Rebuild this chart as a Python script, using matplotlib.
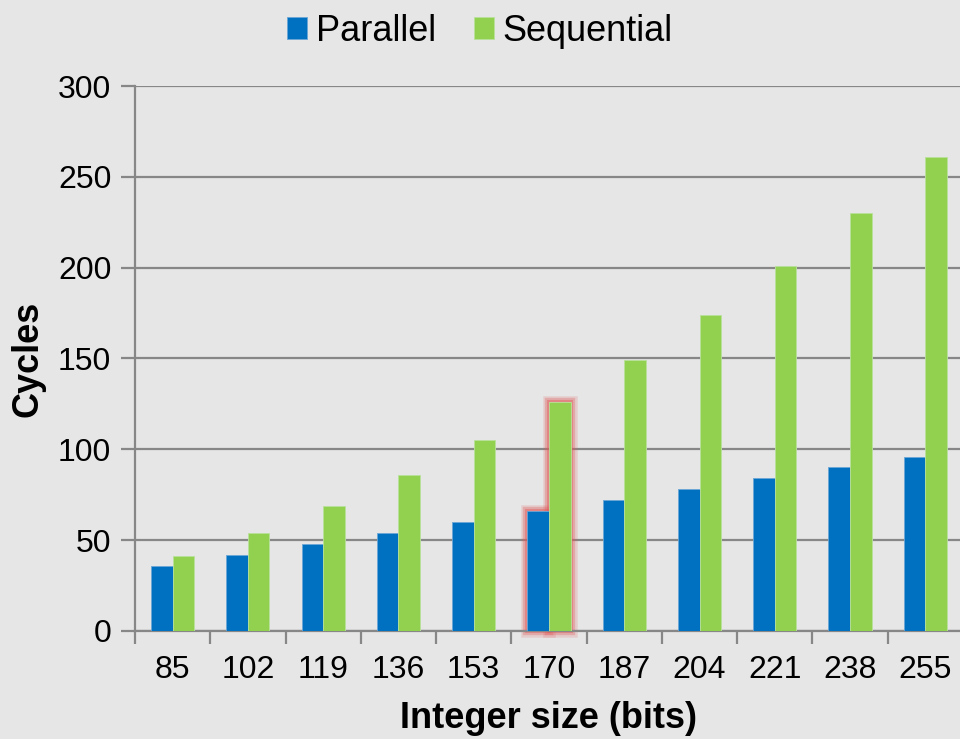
import matplotlib.pyplot as plt
import numpy as np
from matplotlib.patches import Rectangle

plt.rcParams["font.family"] = ["Liberation Sans", "DejaVu Sans"]

sizes = ["85", "102", "119", "136", "153", "170", "187", "204", "221", "238", "255"]
parallel = [36, 42, 48, 54, 60, 66, 72, 78, 84, 90, 96]
sequential = [41, 54, 69, 86, 105, 126, 149, 174, 201, 230, 261]
highlight = "170"

BLUE = "#0070c0"
GREEN = "#92d050"
BG = "#e6e6e6"
LINE = "#878787"

fig = plt.figure(figsize=(9.6, 7.39), dpi=100, facecolor=BG)
ax = fig.add_axes([0.1406, 0.1462, 0.8625, 0.7374], facecolor=BG)

x = np.arange(len(sizes))
w = 0.287
b1 = ax.bar(x - w / 2, parallel, width=w, color=BLUE, edgecolor="#6aa6d6",
            linewidth=0.6, label="Parallel", zorder=3)
b2 = ax.bar(x + w / 2, sequential, width=w, color=GREEN, edgecolor="#b9e29a",
            linewidth=0.6, label="Sequential", zorder=3)

# soft red glow around the highlighted pair
i = sizes.index(highlight)
for bar in (b1[i], b2[i]):
    for lw, a in ((9, 0.18), (6, 0.3), (3, 0.45)):
        ax.add_patch(Rectangle((bar.get_x(), 0), bar.get_width(), bar.get_height(),
                               fill=False, edgecolor="#e05a5a", linewidth=lw,
                               alpha=a, zorder=2, clip_on=False))

ax.set_xlim(-0.5, len(sizes) - 0.5)
ax.set_ylim(0, 300)
ax.set_yticks(range(0, 301, 50))
ax.set_xticks(x)
ax.set_xticklabels(sizes)
ax.set_xticks(np.arange(len(sizes) + 1) - 0.5, minor=True)

ax.grid(axis="y", color=LINE, linewidth=1.6, zorder=0)
for side in ("top", "right"):
    ax.spines[side].set_visible(False)
for side in ("left", "bottom"):
    ax.spines[side].set_color(LINE)
    ax.spines[side].set_linewidth(1.6)

ax.tick_params(axis="y", which="major", length=10, width=1.6, color=LINE,
               labelsize=23, pad=7)
ax.tick_params(axis="x", which="major", length=0, labelsize=23, pad=17)
ax.tick_params(axis="x", which="minor", length=9, width=1.6, color=LINE)

ax.set_xlabel("Integer size (bits)", fontsize=26, fontweight="bold", labelpad=12)
ax.set_ylabel("Cycles", fontsize=26, fontweight="bold", labelpad=9)

fig.legend(handles=[b1, b2], loc="upper center", bbox_to_anchor=(0.5, 1.025),
           ncol=2, frameon=False, fontsize=26, handlelength=0.55, handleheight=0.55,
           handletextpad=0.25, columnspacing=1.05)

fig.savefig("out.png", dpi=100, facecolor=BG)
